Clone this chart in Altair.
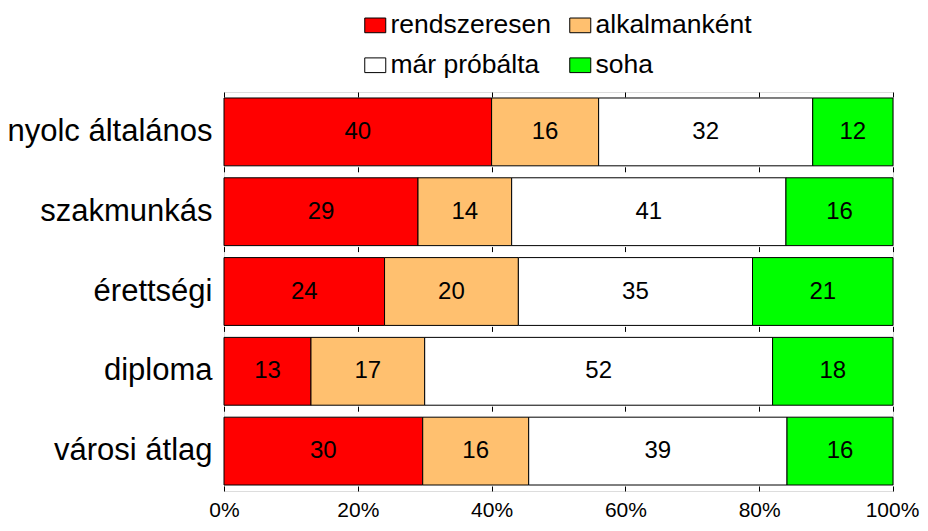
import altair as alt
import pandas as pd

categories = ["nyolc általános", "szakmunkás", "érettségi", "diploma", "városi átlag"]
series = ["rendszeresen", "alkalmanként", "már próbálta", "soha"]
legend_order = ["rendszeresen", "már próbálta", "alkalmanként", "soha"]
rendszeresen = [40, 29, 24, 13, 30]
alkalmankent = [16, 14, 20, 17, 16]
mar_probalta = [32, 41, 35, 52, 39]
soha = [12, 16, 21, 18, 16]
colors = ["#FF0000", "#FFC06F", "#FFFFFF", "#00FF00"]
tick_values = [0, 0.2, 0.4, 0.6, 0.8, 1.0]

rows = []
for j, (s, vals) in enumerate(zip(series, [rendszeresen, alkalmankent, mar_probalta, soha])):
    for i, c in enumerate(categories):
        rows.append({"cat": c, "series": s, "order": j, "value": vals[i]})
df = pd.DataFrame(rows)

FONT = "Liberation Sans"

base = alt.Chart(df).transform_stack(
    stack="value",
    groupby=["cat"],
    sort=[alt.SortField("order", order="ascending")],
    as_=["x0", "x1"],
    offset="normalize",
).transform_calculate(mid="(datum.x0 + datum.x1) / 2")

yenc = alt.Y(
    "cat:N",
    sort=categories,
    title=None,
    scale=alt.Scale(paddingInner=0.15, paddingOuter=0.075),
    axis=alt.Axis(ticks=False, domain=False, labelFontSize=31, labelFont=FONT,
                  labelColor="black", labelPadding=12, labelLimit=400),
)

bars = base.mark_bar(stroke="black", strokeWidth=1).encode(
    x=alt.X(
        "x0:Q",
        scale=alt.Scale(domain=[0, 1], nice=False, zero=True),
        title=None,
        axis=alt.Axis(
            orient="bottom", values=tick_values, format="%", ticks=False, domain=False,
            labelFontSize=21, labelFont=FONT, labelColor="black", labelPadding=8,
            labelOffset={"condition": {"test": "datum.value >= 1", "value": -1}, "value": 0},
            grid=True, gridColor="black", gridWidth=1, gridDash=[5, 74.8],
            labelFlush=False,
        ),
    ),
    x2="x1:Q",
    y=yenc,
    color=alt.Color(
        "series:N",
        scale=alt.Scale(domain=series, range=colors),
        sort=series,
        legend=alt.Legend(
            title=None, orient="none", legendX=138, legendY=-80, columns=2,
            values=legend_order,
            symbolType="M-1,-0.7H1V0.7H-1Z", symbolSize=441,
            symbolStrokeColor="black", symbolStrokeWidth=1, symbolOpacity=1,
            labelFontSize=26.5, labelFont=FONT, labelColor="black", labelOffset=2,
            columnPadding=15, rowPadding=13, labelLimit=300,
        ),
    ),
    order=alt.Order("order:Q"),
)

labels = base.mark_text(fontSize=24, font=FONT, color="black").encode(
    x=alt.X(
        "mid:Q",
        title=None,
        axis=alt.Axis(orient="top", values=tick_values, labels=False, domain=False,
                      ticks=True, tickSize=5, tickColor="black", offset=-5, grid=False),
    ),
    y=alt.Y("cat:N", sort=categories, title=None),
    text=alt.Text("value:Q"),
)

chart = alt.layer(bars, labels).resolve_axis(x="independent").properties(
    width=669,
    height=399,
    autosize=alt.AutoSizeParams(type="none"),
    padding={"left": 216, "top": 84, "right": 27, "bottom": 32},
).configure_view(stroke="black", strokeWidth=1.5).configure(background="white")

chart.save("out.html", embed_options={"renderer": "svg", "actions": False})
